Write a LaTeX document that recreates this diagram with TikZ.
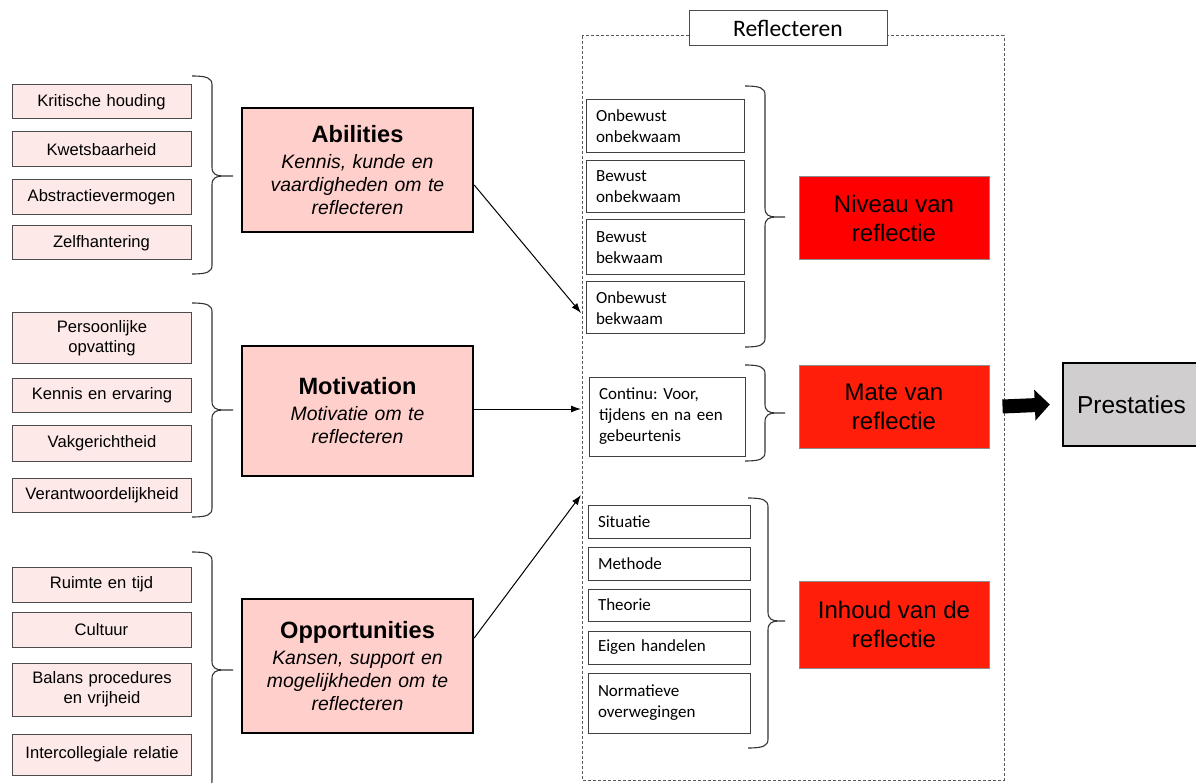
\documentclass[tikz,border=0pt]{standalone}
\usepackage{fontspec}
\setmainfont{Liberation Sans}
\newfontfamily\calfont{Carlito}
\frenchspacing
\usetikzlibrary{arrows.meta}
\tikzset{>={Latex[length=10pt,width=7pt]}}
\definecolor{factorpink}{HTML}{FDE9E7}
\definecolor{aompink}{HTML}{FFD0CB}
\definecolor{niveaured}{HTML}{FF0000}
\definecolor{matered}{HTML}{FF1E0A}
\definecolor{prestgray}{HTML}{D0CECE}
\newcommand{\aomtitle}{\upshape\bfseries\fontsize{23.6}{28}\selectfont}
% accolade: x, boven, midden, onder, lengte punt
\newcommand{\amobrace}[5]{%
  \draw[bracketline] (#1,#2) .. controls ({#1+15},#2) and ({#1+20},{#2+2}) .. ({#1+20},{#2+9})
    -- ({#1+20},{#3-9}) .. controls ({#1+20},{#3-2}) and ({#1+24},#3) .. ({#1+31},#3) -- ({#1+#5},#3)
    ({#1+31},#3) .. controls ({#1+24},#3) and ({#1+20},{#3+2}) .. ({#1+20},{#3+9})
    -- ({#1+20},{#4-9}) .. controls ({#1+20},{#4-2}) and ({#1+15},#4) .. (#1,#4);}
\tikzset{
  factor/.style={draw=black!70, line width=1pt, fill=factorpink, minimum width=179pt,
    text width=170pt, align=center, inner sep=0pt, font=\fontsize{16.6}{20}\selectfont},
  aom/.style={draw=black, line width=2.4pt, fill=aompink, minimum width=231pt,
    text width=222pt, align=center, inner sep=0pt, font=\itshape\fontsize{19.4}{23}\selectfont},
  stage/.style={draw=black!75, line width=1pt, fill=white, inner xsep=10pt, inner ysep=0pt,
    text width=#1, align=left, font=\calfont\fontsize{17}{21}\selectfont},
  outcome/.style={draw=black!45, line width=1pt, minimum width=190pt, minimum height=83pt,
    align=center, font=\fontsize{24}{29}\selectfont},
  bracketline/.style={line width=1.1pt, draw=black!80},
}

\begin{document}
\begin{tikzpicture}[x=1pt,y=-1pt]
  \useasboundingbox (0,0) rectangle (1196,783);

  % FACTOREN
  \node[factor, minimum height=34pt] (kritisch) at (101.5,102) {Kritische houding};
  \node[factor, minimum height=35pt] (kwets) at (101.5,149.5) {Kwetsbaarheid};
  \node[factor, minimum height=35pt] (abstr) at (101.5,197) {Abstractievermogen};
  \node[factor, minimum height=34pt] (zelf) at (101.5,243) {Zelfhantering};

  \node[factor, minimum height=50pt] (persoon) at (102,338) {Persoonlijke\\opvatting};
  \node[factor, minimum height=34pt] (kennis) at (102,395) {Kennis en ervaring};
  \node[factor, minimum height=36pt] (vak) at (102,443.5) {Vakgerichtheid};
  \node[factor, minimum height=34pt] (verantw) at (102,495) {Verantwoordelijkheid};

  \node[factor, minimum height=35pt] (ruimte) at (101.5,584.5) {Ruimte en tijd};
  \node[factor, minimum height=35pt] (cultuur) at (101.5,629.5) {Cultuur};
  \node[factor, minimum height=53pt] (balans) at (102,689.5) {Balans procedures\\en vrijheid};
  \node[factor, minimum height=41pt] (intercol) at (102,754.5) {Intercollegiale relatie};

  \amobrace{192}{76}{176}{274}{41}
  \amobrace{192}{303}{410}{517}{41}
  \amobrace{192}{552}{670}{790}{41}

  % AMO
  \node[aom, minimum height=124pt] (abil) at (357.5,170)
    {{\aomtitle Abilities}\\[3pt]Kennis, kunde en\\vaardigheden om te\\reflecteren};
  \node[aom, minimum height=130pt] (motiv) at (357.5,411)
    {{\aomtitle Motivation}\\[3pt]Motivatie om te\\reflecteren};
  \node[aom, minimum height=134pt] (oppor) at (357.5,666)
    {{\aomtitle Opportunities}\\[3pt]Kansen, support en\\mogelijkheden om te\\reflecteren};

  % REFLECTEREN
  \draw[dashed, dash pattern=on 3pt off 2pt, black!65, line width=1pt] (582,36) rectangle (1004,780);
  \node[draw=black!70, line width=1pt, fill=white, minimum width=198pt, minimum height=35pt,
    font=\calfont\fontsize{23.6}{28}\selectfont] (reflect) at (788,28.5) {Reflecteren};

  \coordinate (inA) at (581,313);
  \coordinate (inM) at (581,409);
  \coordinate (inO) at (581,495);
  \draw[->, line width=1pt] ([yshift=-15pt]abil.east) -- (inA);
  \draw[->, line width=1pt] ([yshift=2pt]motiv.east) -- (inM);
  \draw[->, line width=1pt] ([yshift=28pt]oppor.east) -- (inO);

  \node[stage=138pt, minimum height=53pt] (onon) at (665,126.5) {Onbewust\\onbekwaam};
  \node[stage=138pt, minimum height=52pt] (beon) at (665,187) {Bewust\\onbekwaam};
  \node[stage=138pt, minimum height=55pt] (bebe) at (665,247.5) {Bewust\\bekwaam};
  \node[stage=138pt, minimum height=52pt] (onbe) at (665,308) {Onbewust\\bekwaam};

  \node[stage=136pt, minimum height=79pt] (continu) at (667,416.5) {Continu: Voor,\\tijdens en na een\\gebeurtenis};

  \node[stage=142pt, minimum height=33pt] (situatie) at (669,521.5) {Situatie};
  \node[stage=142pt, minimum height=33pt] (methode) at (669,563.5) {Methode};
  \node[stage=142pt, minimum height=32pt] (theorie) at (669,605) {Theorie};
  \node[stage=142pt, minimum height=33pt] (eigen) at (669,647.5) {Eigen handelen};
  \node[stage=142pt, minimum height=60pt] (normatief) at (669,703) {Normatieve\\overwegingen};

  \amobrace{745}{86}{217}{347}{40}
  \amobrace{745}{365}{413}{461}{40}
  \amobrace{748}{498}{621}{748}{37}

  \node[outcome, fill=niveaured] (niveau) at (894,218.5) {Niveau van\\reflectie};
  \node[outcome, fill=matered] (mate) at (894,406.5) {Mate van\\reflectie};
  \node[outcome, fill=matered, minimum height=87pt] (inhoud) at (894,624.5) {Inhoud van de\\reflectie};

  % PRESTATIES
  \node[draw=black, line width=2.4pt, fill=prestgray, minimum width=137pt, minimum height=83pt,
    font=\fontsize{24.5}{29}\selectfont] (prest) at (1131.5,404.5) {Prestaties};
  \draw[line width=14pt, -{Triangle[length=15pt,width=30pt]}] ([xshift=13pt]mate.east) -- ([xshift=-12pt]prest.west);

\end{tikzpicture}
\end{document}
